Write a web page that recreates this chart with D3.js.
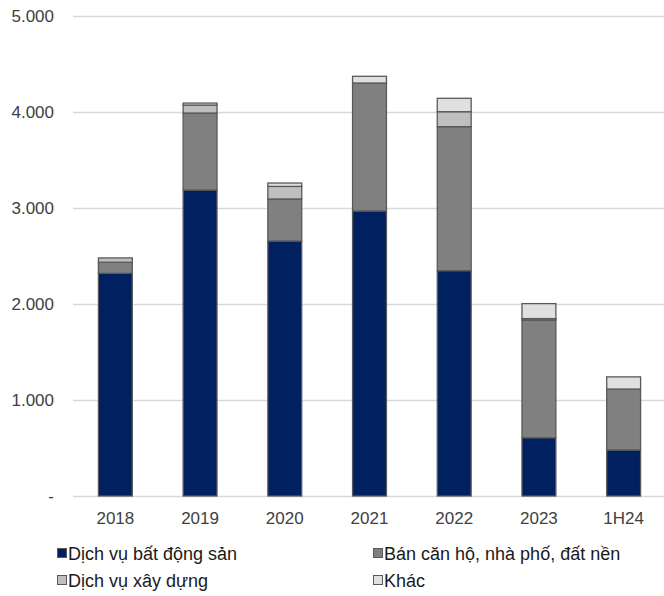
<!DOCTYPE html>
<html>
<head>
<meta charset="utf-8">
<script src="https://cdn.jsdelivr.net/npm/d3@7/dist/d3.min.js"></script>
<style>
  html, body { margin: 0; padding: 0; background: #fff; }
  svg { display: block; font-family: "Liberation Sans", Arial, sans-serif; }
</style>
</head>
<body>
<svg id="chart" width="664" height="596"></svg>
<script>
// Periods on the x axis
const categories = ["2018", "2019", "2020", "2021", "2022", "2023", "1H24"];

// Revenue by segment (tỷ đồng)
const dichVuBDS   = [2320, 3187, 2656, 2969, 2347, 607, 479];
const banCanHo    = [115, 802, 438, 1333, 1500, 1226, 635];
const dichVuXD    = [45, 83, 131, 0, 156, 15, 0];
const khac        = [0, 21, 35, 70, 140, 156, 127];

const seriesNames = ["Dịch vụ bất động sản", "Bán căn hộ, nhà phố, đất nền", "Dịch vụ xây dựng", "Khác"];
const seriesColors = ["#002060", "#808080", "#bfbfbf", "#e0e0e0"];

// Y-axis ticks
const yTicks = [0, 1000, 2000, 3000, 4000, 5000];
const yTickLabels = ["-", "1.000", "2.000", "3.000", "4.000", "5.000"];

const rows = categories.map((c, i) => ({
  cat: c,
  s0: dichVuBDS[i], s1: banCanHo[i], s2: dichVuXD[i], s3: khac[i]
}));
const keys = ["s0", "s1", "s2", "s3"];
const stacked = d3.stack().keys(keys)(rows);

const svg = d3.select("#chart");

const x = d3.scaleBand()
  .domain(categories)
  .range([73, 666])
  .paddingInner(0.6)
  .paddingOuter(0.3);

const y = d3.scaleLinear()
  .domain([0, 5000])
  .range([496, 16]);

// Gridlines
svg.append("g")
  .selectAll("line")
  .data(yTicks)
  .join("line")
  .attr("x1", 73)
  .attr("x2", 664)
  .attr("y1", d => Math.round(y(d)) + 0.5)
  .attr("y2", d => Math.round(y(d)) + 0.5)
  .attr("stroke", "#d9d9d9")
  .attr("stroke-width", 1.3);

// Y-axis labels
svg.append("g")
  .selectAll("text")
  .data(yTicks)
  .join("text")
  .attr("x", 54)
  .attr("y", d => y(d))
  .attr("dy", "0.36em")
  .attr("text-anchor", "end")
  .attr("font-size", 17)
  .attr("fill", "#404040")
  .text((d, i) => yTickLabels[i]);

// Stacked bars
svg.append("g")
  .selectAll("g")
  .data(stacked)
  .join("g")
  .attr("fill", (d, i) => seriesColors[i])
  .selectAll("rect")
  .data(d => d.filter(v => v[1] - v[0] > 0))
  .join("rect")
  .attr("x", d => x(d.data.cat))
  .attr("width", x.bandwidth())
  .attr("y", d => y(d[1]))
  .attr("height", d => y(d[0]) - y(d[1]))
  .attr("stroke", "#595959")
  .attr("stroke-width", 1.3);

// X-axis labels
svg.append("g")
  .selectAll("text")
  .data(categories)
  .join("text")
  .attr("x", d => x(d) + x.bandwidth() / 2)
  .attr("y", 524)
  .attr("text-anchor", "middle")
  .attr("font-size", 17)
  .attr("fill", "#404040")
  .text(d => d);

// Legend, two columns
const legendPos = [[57, 554], [373, 554], [57, 581], [373, 581]];
const legend = svg.append("g")
  .selectAll("g")
  .data(seriesNames)
  .join("g")
  .attr("transform", (d, i) => `translate(${legendPos[i][0]},${legendPos[i][1]})`);

legend.append("rect")
  .attr("x", 0.5)
  .attr("y", -5.5)
  .attr("width", 9)
  .attr("height", 9)
  .attr("fill", (d, i) => seriesColors[i])
  .attr("stroke", "#595959")
  .attr("stroke-width", 1);

legend.append("text")
  .attr("x", 11)
  .attr("y", 0)
  .attr("dy", "0.35em")
  .attr("font-size", 18)
  .attr("fill", "#1a1a1a")
  .text(d => d);
</script>
</body>
</html>
